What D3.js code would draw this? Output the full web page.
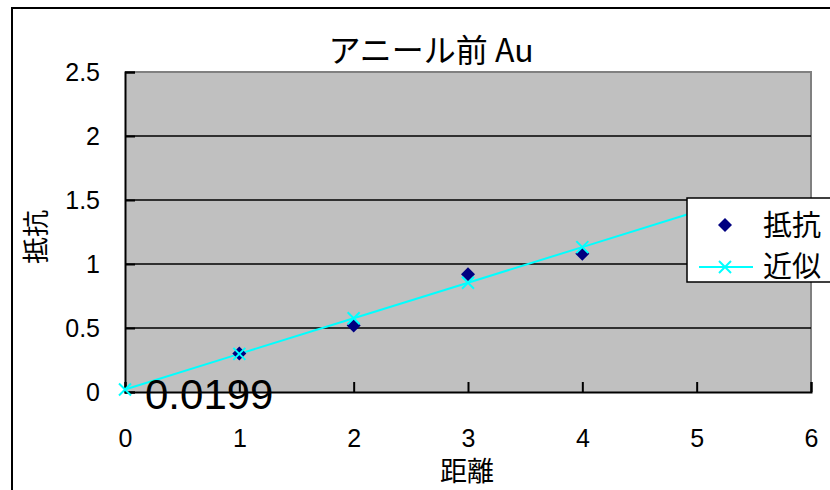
<!DOCTYPE html>
<html>
<head>
<meta charset="utf-8">
<script src="https://cdn.jsdelivr.net/npm/d3@7"></script>
<style>
  html, body { margin: 0; padding: 0; background: #fff; }
  svg { display: block; }
  text { font-family: "Liberation Sans", Arial, "Noto Sans CJK JP", sans-serif; fill: #000; }
</style>
</head>
<body>
<svg id="chart" width="830" height="490"></svg>
<script>
// Measured resistance versus distance
const distance = [1, 2, 3, 4];
const resistance = [0.30, 0.52, 0.92, 1.08];

// Linear approximation
const fitDistance = [0, 1, 2, 3, 4, 5];
const fitResistance = [0.0199, 0.298, 0.576, 0.854, 1.132, 1.41];

const xTicks = [0, 1, 2, 3, 4, 5, 6];
const yTicks = [0, 0.5, 1, 1.5, 2, 2.5];
const yTickLabels = ["0", "0.5", "1", "1.5", "2", "2.5"];

const title = "アニール前 Au";
const xTitle = "距離";
const yTitle = "抵抗";
const seriesNames = ["抵抗", "近似"];
const pointLabel = "0.0199";

const svg = d3.select("#chart");
const jp = '"Noto Sans CJK JP", "Liberation Sans", sans-serif';
const latin = '"Liberation Sans", Arial, sans-serif';

// Outer chart frame
svg.append("rect")
  .attr("x", 12).attr("y", 8).attr("width", 830).attr("height", 500)
  .attr("fill", "#fff").attr("stroke", "#000").attr("stroke-width", 2);

const plot = { left: 125, top: 72, right: 811, bottom: 392 };
const x = d3.scaleLinear().domain([0, 6]).range([plot.left, plot.right]);
const y = d3.scaleLinear().domain([0, 2.5]).range([plot.bottom, plot.top]);

// Plot background
svg.append("rect")
  .attr("x", plot.left).attr("y", plot.top)
  .attr("width", plot.right - plot.left).attr("height", plot.bottom - plot.top)
  .attr("fill", "#c0c0c0");
svg.append("path")
  .attr("d", `M${plot.left},${plot.top}H${plot.right}V${plot.bottom}`)
  .attr("fill", "none").attr("stroke", "#808080").attr("stroke-width", 2);

// Horizontal gridlines
svg.append("g").selectAll("line")
  .data(yTicks.filter(v => v > 0 && v < 2.5))
  .join("line")
  .attr("x1", plot.left).attr("x2", plot.right)
  .attr("y1", d => y(d)).attr("y2", d => y(d))
  .attr("stroke", "#000").attr("stroke-width", 1.5);

// Axes with inward ticks
const xAxis = d3.axisBottom(x).tickValues(xTicks).tickSize(-10).tickPadding(46)
  .tickFormat(d3.format("d"));
const gx = svg.append("g").attr("transform", `translate(0,${plot.bottom})`).call(xAxis);
gx.select(".domain").attr("stroke", "#000").attr("stroke-width", 2);
gx.selectAll(".tick line").attr("stroke", "#000").attr("stroke-width", 2);
gx.selectAll(".tick text").attr("dy", "0.35em")
  .style("font-size", "25px").style("font-family", latin);

const yAxis = d3.axisLeft(y).tickValues(yTicks).tickSize(-10).tickPadding(25)
  .tickFormat((d, i) => yTickLabels[i]);
const gy = svg.append("g").attr("transform", `translate(${plot.left},0)`).call(yAxis);
gy.select(".domain").attr("stroke", "#000").attr("stroke-width", 2);
gy.selectAll(".tick line").attr("stroke", "#000").attr("stroke-width", 2);
gy.selectAll(".tick text").attr("dy", "0.35em")
  .style("font-size", "25px").style("font-family", latin);

// Approximation line
const line = d3.line().x((d, i) => x(fitDistance[i])).y(d => y(d));
svg.append("path").datum(fitResistance)
  .attr("d", line).attr("fill", "none")
  .attr("stroke", "#00ffff").attr("stroke-width", 2);

const crossPath = "M-6,-6L6,6M-6,6L6,-6";
const diamondPath = "M0,-7L7,0L0,7L-7,0Z";

// Measured points (diamonds)
svg.append("g").selectAll("path")
  .data(resistance)
  .join("path")
  .attr("transform", (d, i) => `translate(${x(distance[i])},${y(d)})`)
  .attr("d", diamondPath)
  .attr("fill", "#000080");

// Approximation markers (crosses)
svg.append("g").selectAll("path")
  .data(fitResistance)
  .join("path")
  .attr("transform", (d, i) => `translate(${x(fitDistance[i])},${y(d)})`)
  .attr("d", crossPath)
  .attr("stroke", "#00ffff").attr("stroke-width", 2).attr("fill", "none");

// Value label of the first approximation point
svg.append("text")
  .attr("x", x(fitDistance[0]) + 20).attr("y", y(fitResistance[0]) + 20)
  .style("font-size", "42px").style("font-family", latin)
  .text(pointLabel);

// Title
svg.append("text")
  .attr("x", 431).attr("y", 62).attr("text-anchor", "middle")
  .style("font-size", "32px").style("font-family", jp)
  .text(title);

// Axis titles
svg.append("text")
  .attr("x", 467).attr("y", 481).attr("text-anchor", "middle")
  .style("font-size", "27px").style("font-family", jp)
  .text(xTitle);
svg.append("text")
  .attr("transform", "translate(46,237) rotate(-90)")
  .attr("text-anchor", "middle")
  .style("font-size", "27px").style("font-family", jp)
  .text(yTitle);

// Legend
const lg = svg.append("g").attr("transform", "translate(687,198)");
lg.append("rect").attr("width", 160).attr("height", 84)
  .attr("fill", "#fff").attr("stroke", "#000").attr("stroke-width", 1.5);
lg.append("path").attr("transform", "translate(38,27)")
  .attr("d", diamondPath).attr("fill", "#000080");
lg.append("line").attr("x1", 12).attr("x2", 66).attr("y1", 69).attr("y2", 69)
  .attr("stroke", "#00ffff").attr("stroke-width", 2);
lg.append("path").attr("transform", "translate(38,69)")
  .attr("d", crossPath).attr("stroke", "#00ffff").attr("stroke-width", 2);
lg.selectAll("text.lbl").data(seriesNames).join("text")
  .attr("class", "lbl")
  .attr("x", 76).attr("y", (d, i) => 28 + i * 41)
  .attr("dy", "0.35em")
  .style("font-size", "29px").style("font-family", jp)
  .text(d => d);
</script>
</body>
</html>
